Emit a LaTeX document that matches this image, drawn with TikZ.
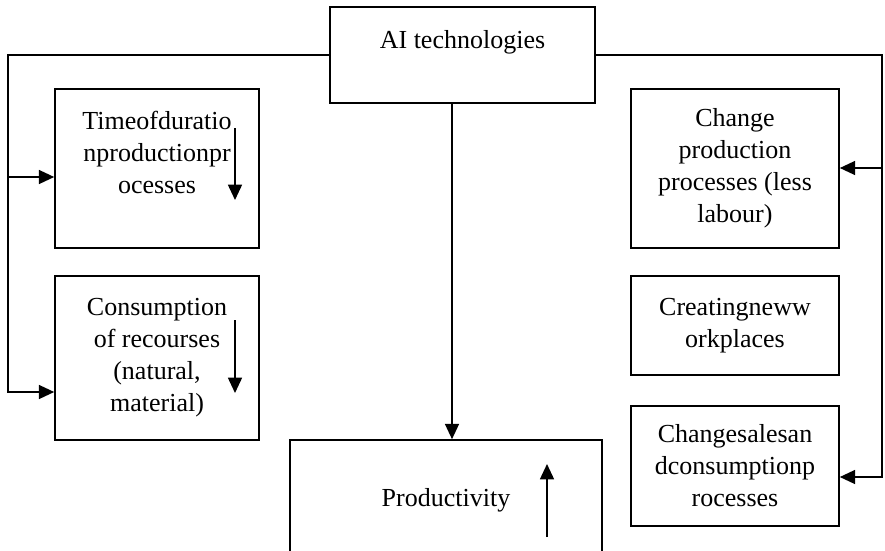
\documentclass[tikz,border=0pt]{standalone}
\usepackage{fontspec}
\setmainfont{Liberation Serif}
\usepackage{tikz}
\usetikzlibrary{arrows.meta}
\usetikzlibrary{positioning}

\begin{document}
\begin{tikzpicture}[x=0.75pt, y=-0.75pt, line width=1.2pt,
    every node/.style={align=center, inner sep=0pt, font=\fontsize{19.5}{24}\selectfont},
    blk/.style={draw, line width=1.2pt},
    arr/.style={-{Triangle[length=11.5pt, width=10.5pt]}}]
    \clip (0,0) rectangle (885,550);

    \node(ai) [blk, minimum width=198.75pt, minimum height=72pt] at (462.5, 55) {AI technologies\\~};
    \node(time) [blk, minimum width=153pt, minimum height=119.25pt] at (157, 168.5) {Timeofduratio\\nproductionpr\\ocesses\\~};
    \node(cons) [blk, minimum width=153pt, minimum height=123pt] at (157, 358) {Consumption\\of recourses\\(natural,\\material)};
    \node(chg) [blk, minimum width=156pt, minimum height=119.25pt] at (735, 168.5) {Change\\production\\processes (less\\labour)};
    \node(work) [blk, minimum width=156pt, minimum height=74.25pt] at (735, 325.5) {Creatingneww\\orkplaces};
    \node(sale) [blk, minimum width=156pt, minimum height=90pt] at (735, 466) {Changesalesan\\dconsumptionp\\rocesses};
    \node(prod) [blk, minimum width=234pt, minimum height=90pt] at (446, 500) {Productivity};

    % left branch
    \coordinate (l1) at (8, 177);
    \coordinate (l2) at (8, 392);
    \draw[arr] (ai.west) -| (l2) -- (l2 -| cons.west);
    \draw[arr] (l1) -- (l1 -| time.west);

    % right branch
    \coordinate (r1) at (882, 168);
    \coordinate (r2) at (882, 477);
    \draw[arr] (ai.east) -| (r2) -- (r2 -| sale.east);
    \draw[arr] (r1) -- (r1 -| chg.east);

    \draw[arr] (ai.south -| 452,0) -- (prod.north -| 452,0);

    % trend arrows
    \coordinate (t1) at (235, 128);
    \coordinate (t2) at (235, 200);
    \coordinate (c1) at (235, 320);
    \coordinate (c2) at (235, 393);
    \coordinate (p1) at (547, 537);
    \coordinate (p2) at (547, 464);
    \draw[arr] (t1) -- (t2);
    \draw[arr] (c1) -- (c2);
    \draw[arr] (p1) -- (p2);
  \end{tikzpicture}
\end{document}
